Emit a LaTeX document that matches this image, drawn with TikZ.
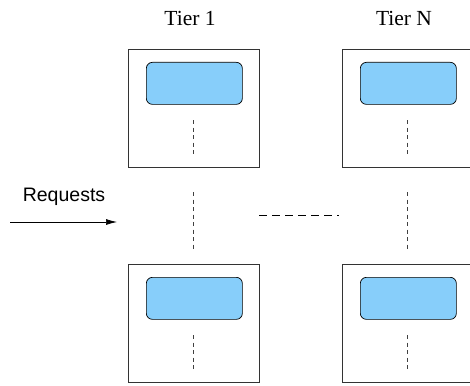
\documentclass[tikz,border=0pt]{standalone}
\usepackage{fontspec}
\setmainfont{Liberation Serif}
\newfontfamily\reqfont{Liberation Sans}
\usetikzlibrary{arrows.meta}
\definecolor{boxblue}{HTML}{87CEFA}
\begin{document}
\begin{tikzpicture}[x=1pt,y=-1pt,
  tierbox/.style={draw=black!80, line width=0.9pt, minimum width=131pt, minimum height=118pt, inner sep=0pt, anchor=north west},
  unitbox/.style={draw=black, line width=0.7pt, fill=boxblue, rounded corners=6pt, minimum width=96pt, minimum height=42pt, inner sep=0pt, anchor=north west},
  vdash/.style={draw=black!75, line width=0.7pt, dash pattern=on 4pt off 3.5pt},
  hdash/.style={draw=black, line width=0.9pt, dash pattern=on 8pt off 5pt},
  tierlabel/.style={font=\fontsize{21.5}{25}\selectfont, inner sep=0pt}
]
\clip (0,0) rectangle (470,385);
\useasboundingbox (0,0) rectangle (470,385);
% tier labels
\node[tierlabel] (t1) at (190,18) {Tier 1};
\node[tierlabel] (tn) at (404,18) {Tier N};
% boxes
\node[tierbox] (b11) at (128,49) {};
\node[tierbox, minimum width=140pt] (b1n) at (342,49) {};
\node[tierbox] (b21) at (128,264) {};
\node[tierbox, minimum width=140pt] (b2n) at (342,264) {};
% inner units
\node[unitbox] (u11) at (146,62) {};
\node[unitbox] (u1n) at (360,62) {};
\node[unitbox] (u21) at (146,277) {};
\node[unitbox] (u2n) at (360,277) {};
% dashed vertical lines inside boxes
\coordinate (d11a) at (193,120); \coordinate (d11b) at (193,154);
\coordinate (d1na) at (407,120); \coordinate (d1nb) at (407,154);
\coordinate (d21a) at (193,335); \coordinate (d21b) at (193,369);
\coordinate (d2na) at (407,335); \coordinate (d2nb) at (407,369);
\draw[vdash] (d11a) -- (d11b);
\draw[vdash] (d1na) -- (d1nb);
\draw[vdash] (d21a) -- (d21b);
\draw[vdash] (d2na) -- (d2nb);
% dashed between rows
\coordinate (m1a) at (193,192); \coordinate (m1b) at (193,250);
\coordinate (mna) at (407,192); \coordinate (mnb) at (407,250);
\draw[vdash] (m1a) -- (m1b);
\draw[vdash] (mna) -- (mnb);
% horizontal dashed
\coordinate (ha) at (259,215); \coordinate (hb) at (339,215);
\draw[hdash] (ha) -- (hb);
% requests
\node[font=\reqfont\fontsize{19.5}{23}\selectfont, inner sep=0pt] (req) at (64,197) {Requests};
\coordinate (ra) at (10,222); \coordinate (rb) at (117,222);
\draw[line width=0.7pt, -{Latex[length=11pt,width=6pt]}] (ra) -- (rb);
\end{tikzpicture}
\end{document}
